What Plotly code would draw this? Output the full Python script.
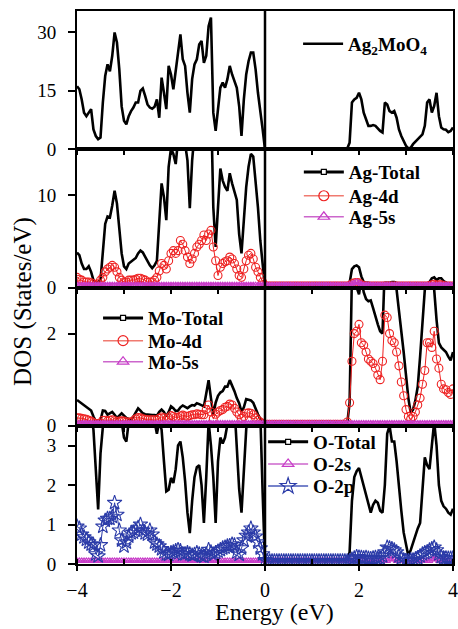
import plotly.graph_objects as go
from plotly.subplots import make_subplots

# energy grid (eV), 0.05 eV steps from -4 to 4
energy = [round(-4 + 0.05 * i, 2) for i in range(161)]

# ---- Panel 1: Ag2MoO4 total ----
ag2moo4_vb = [
    16.2, 15.4, 12.8, 9.4, 8.5, 9.4, 10.3, 5.1, 3.4, 2.6,
    3.0, 12.0, 18.8, 21.8, 20.0, 24.0, 30.0, 27.4, 20.5, 11.0,
    7.3, 6.4, 8.5, 9.8, 10.7, 12.0, 12.0, 15.0, 15.6, 13.7,
    11.5, 10.7, 10.4, 10.9, 12.8, 8.1, 18.4, 14.5, 10.3, 21.4,
    19.2, 15.4, 19.7, 24.0, 29.5, 23.1, 21.4, 14.5, 9.4, 18.0,
    21.8, 23.1, 26.9, 27.8, 22.2, 24.0, 31.6, 33.8, 9.4, 4.7,
    11.1, 15.8, 17.1, 15.8, 18.0, 21.4, 19.2, 17.5, 15.8, 11.1,
    3.4, 12.8, 19.2, 22.6, 24.8, 24.8, 20.5, 14.5, 10.3, 5.1,
    0.0]
ag2moo4_cb = [
    0.0, 0.0, 0.0, 0.0, 0.0, 0.0, 0.0, 0.0, 0.0, 0.0,
    0.0, 0.0, 0.0, 0.0, 0.0, 0.0, 0.0, 0.0, 0.0, 0.0,
    0.0, 0.0, 0.0, 0.0, 0.0, 0.0, 0.0, 0.0, 0.0, 0.0,
    0.0, 0.0, 0.0, 0.0,
    0.2, 1.7, 12.0, 12.8, 13.2, 14.5, 12.8, 9.4, 7.7, 6.0,
    6.0, 6.2, 6.0, 5.3, 4.7, 4.3, 12.0, 11.5, 9.8, 9.4,
    9.8, 8.1, 5.1, 3.4, 2.1, 0.9, 0.2, 0.4, 1.3, 1.9,
    2.6, 3.0, 3.8, 6.0, 12.0, 12.8, 9.4, 11.1, 14.5, 8.5,
    5.6, 5.1, 5.0, 4.4, 4.7, 5.6]

# ---- Panel 2: Ag ----
ag_total_vb = [
    3.8, 3.5, 2.6, 2.0, 2.0, 2.3, 1.7, 0.8, 0.5, 0.6,
    0.8, 4.0, 6.9, 7.7, 7.6, 8.9, 10.5, 9.1, 6.2, 3.7,
    2.3, 2.0, 2.6, 2.8, 2.9, 3.2, 3.7, 4.0, 3.8, 3.3,
    2.8, 2.4, 2.1, 2.4, 2.9, 6.9, 11.3, 9.8, 7.3, 13.1,
    15.1, 14.5, 13.4, 16.0, 19.6, 16.7, 15.6, 13.8, 8.6, 13.8,
    16.7, 16.3, 17.4, 18.2, 16.3, 17.4, 20.0, 20.7, 8.7, 4.4,
    8.7, 12.9, 11.6, 10.9, 10.5, 12.4, 11.3, 10.4, 9.5, 5.8,
    3.7, 7.3, 10.9, 13.1, 14.5, 14.2, 11.6, 8.7, 5.1, 2.2,
    0.0]
ag_total_cb = [
    0.3, 0.3, 0.3, 0.3, 0.3, 0.3, 0.3, 0.3, 0.3, 0.3,
    0.3, 0.3, 0.3, 0.3, 0.3, 0.3, 0.3, 0.3, 0.3, 0.3,
    0.3, 0.3, 0.3, 0.3, 0.3, 0.3, 0.3, 0.3, 0.3, 0.3,
    0.3, 0.3, 0.3, 0.3, 0.3,
    0.5, 2.0, 2.3, 2.4, 2.2, 1.2, 0.6, 0.5, 0.5, 0.4,
    0.4, 0.4, 0.4, 0.4, 0.4, 0.5, 0.5, 0.5, 0.6, 0.6,
    0.5, 0.4, 0.4, 0.4, 0.3, 0.3, 0.3, 0.3, 0.3, 0.3,
    0.4, 0.4, 0.4, 0.4, 0.6, 1.0, 1.1, 0.8, 1.0, 1.0,
    0.7, 0.5, 0.4, 0.4, 0.4]
ag_4d_vb = [
    1.1, 0.9, 0.8, 0.6, 0.6, 0.6, 0.5, 0.4, 0.3, 0.4,
    0.8, 1.1, 1.7, 2.0, 2.2, 2.4, 2.2, 1.7, 1.1, 0.8,
    0.6, 0.6, 0.8, 0.8, 0.8, 0.9, 1.0, 1.0, 0.9, 0.8,
    0.6, 0.6, 0.6, 0.8, 1.1, 1.8, 2.6, 2.4, 2.0, 2.9,
    3.7, 4.0, 3.7, 4.0, 5.1, 4.7, 4.0, 3.3, 2.6, 3.1,
    3.7, 4.4, 4.7, 5.1, 5.7, 5.1, 5.8, 6.2, 4.4, 2.9,
    1.3, 2.2, 2.6, 2.8, 2.9, 3.3, 3.1, 2.6, 2.0, 1.3,
    1.1, 2.0, 2.9, 3.5, 3.7, 3.1, 2.2, 1.7, 1.1, 0.6,
    0.2]
ag_4d_cb = [
    0.15, 0.15, 0.15, 0.15, 0.15, 0.15, 0.15, 0.15, 0.15, 0.15,
    0.15, 0.15, 0.15, 0.15, 0.15, 0.15, 0.15, 0.15, 0.15, 0.15,
    0.15, 0.15, 0.15, 0.15, 0.15, 0.15, 0.15, 0.15, 0.15, 0.15,
    0.15, 0.15, 0.15, 0.15, 0.15,
    0.2, 0.4, 0.5, 0.55, 0.5, 0.3, 0.2,
    0.15, 0.15, 0.15, 0.15, 0.15, 0.15, 0.15, 0.15, 0.15, 0.15,
    0.15, 0.15, 0.15, 0.15, 0.15, 0.15, 0.15, 0.15, 0.15, 0.15,
    0.15, 0.15, 0.15, 0.15, 0.15, 0.15, 0.15,
    0.2, 0.3, 0.35, 0.25, 0.3, 0.3, 0.2,
    0.15, 0.15, 0.15, 0.15]
ag_5s_vb = [
    0.25, 0.25, 0.25, 0.25, 0.25, 0.25, 0.25, 0.25, 0.25, 0.25,
    0.25, 0.25, 0.25, 0.25, 0.25, 0.25, 0.25, 0.25, 0.25, 0.25,
    0.25, 0.25, 0.25, 0.25, 0.25, 0.25, 0.25, 0.25, 0.25, 0.25,
    0.25, 0.25, 0.25, 0.25, 0.25, 0.25, 0.25, 0.25, 0.25, 0.25,
    0.25, 0.25, 0.25, 0.25, 0.25, 0.25, 0.25, 0.25, 0.25, 0.25,
    0.25, 0.25, 0.25, 0.25, 0.25, 0.25, 0.25, 0.25, 0.25, 0.25,
    0.25, 0.25, 0.25, 0.25, 0.25, 0.25, 0.25, 0.25, 0.25, 0.25,
    0.25, 0.25, 0.25, 0.25, 0.25, 0.25, 0.25, 0.25, 0.25, 0.25,
    0.25]
ag_5s_cb = [
    0.25, 0.25, 0.25, 0.25, 0.25, 0.25, 0.25, 0.25, 0.25, 0.25,
    0.25, 0.25, 0.25, 0.25, 0.25, 0.25, 0.25, 0.25, 0.25, 0.25,
    0.25, 0.25, 0.25, 0.25, 0.25, 0.25, 0.25, 0.25, 0.25, 0.25,
    0.25, 0.25, 0.25, 0.25, 0.25,
    0.3, 0.4, 0.5, 0.6, 0.5, 0.35,
    0.25, 0.25, 0.25, 0.25, 0.25, 0.25, 0.25, 0.25, 0.25, 0.25,
    0.25, 0.25, 0.25, 0.25, 0.25, 0.25, 0.25, 0.25, 0.25, 0.25,
    0.25, 0.25, 0.25, 0.25, 0.25, 0.25, 0.25, 0.25, 0.25, 0.25,
    0.25, 0.25, 0.25, 0.25, 0.25, 0.25, 0.25, 0.25, 0.25]

# ---- Panel 3: Mo ----
mo_total_vb = [
    0.56, 0.52, 0.47, 0.45, 0.40, 0.37, 0.33, 0.20, 0.10, 0.10,
    0.12, 0.33, 0.32, 0.24, 0.27, 0.30, 0.24, 0.17, 0.22, 0.27,
    0.22, 0.17, 0.15, 0.13, 0.20, 0.30, 0.38, 0.33, 0.27, 0.25,
    0.24, 0.24, 0.23, 0.23, 0.22, 0.30, 0.35, 0.30, 0.20, 0.30,
    0.42, 0.38, 0.32, 0.33, 0.40, 0.44, 0.40, 0.38, 0.42, 0.45,
    0.44, 0.49, 0.47, 0.45, 0.42, 0.70, 0.99, 0.60, 0.24, 0.50,
    0.65, 0.72, 0.75, 0.85, 0.85, 0.99, 0.88, 0.75, 0.60, 0.49,
    0.30, 0.40, 0.58, 0.56, 0.55, 0.50, 0.35, 0.25, 0.15, 0.08,
    0.02]
mo_total_cb = [
    0.05, 0.05, 0.05, 0.05, 0.05, 0.05, 0.05, 0.05, 0.05, 0.05,
    0.05, 0.05, 0.05, 0.05, 0.05, 0.05, 0.05, 0.05, 0.05, 0.05,
    0.05, 0.05, 0.05, 0.05, 0.05, 0.05, 0.05, 0.05, 0.05, 0.05,
    0.05, 0.05, 0.05, 0.05, 0.05,
    0.5, 3.3, 3.4, 3.0, 2.85, 3.2, 2.9, 2.75, 2.7, 2.72,
    2.55, 2.35, 2.2, 2.05, 2.0, 3.5, 3.6, 3.6, 3.4, 3.2,
    2.95, 2.5, 2.1, 1.6, 1.1, 0.6, 0.28, 0.35, 0.55, 0.85,
    1.5, 2.3, 2.95, 3.3, 3.4, 3.1, 2.95, 2.3, 1.8, 1.7,
    1.65, 1.6, 1.5, 1.42, 1.6]
mo_4d_vb = [
    0.17, 0.17, 0.16, 0.15, 0.14, 0.12, 0.10, 0.07, 0.05, 0.05,
    0.06, 0.12, 0.12, 0.10, 0.12, 0.13, 0.11, 0.09, 0.10, 0.11,
    0.10, 0.08, 0.08, 0.08, 0.11, 0.15, 0.18, 0.17, 0.15, 0.14,
    0.13, 0.13, 0.13, 0.13, 0.12, 0.16, 0.19, 0.17, 0.13, 0.17,
    0.22, 0.20, 0.18, 0.18, 0.21, 0.23, 0.21, 0.20, 0.22, 0.24,
    0.24, 0.26, 0.25, 0.24, 0.24, 0.35, 0.45, 0.30, 0.15, 0.25,
    0.30, 0.33, 0.35, 0.40, 0.42, 0.47, 0.45, 0.38, 0.30, 0.24,
    0.16, 0.20, 0.27, 0.28, 0.27, 0.24, 0.17, 0.12, 0.08, 0.05,
    0.03]
mo_4d_cb = [
    0.03, 0.03, 0.03, 0.03, 0.03, 0.03, 0.03, 0.03, 0.03, 0.03,
    0.03, 0.03, 0.03, 0.03, 0.03, 0.03, 0.03, 0.03, 0.03, 0.03,
    0.03, 0.03, 0.03, 0.03, 0.03, 0.03, 0.03, 0.03, 0.03, 0.03,
    0.03, 0.03, 0.03, 0.03,
    0.08, 0.5, 1.4, 2.0, 2.05, 2.2, 1.8, 1.75, 1.6, 1.45,
    1.4, 1.35, 1.25, 1.1, 1.0, 1.4, 2.4, 2.35, 2.0, 1.85,
    1.8, 1.6, 1.3, 0.95, 0.65, 0.35, 0.2, 0.15, 0.2, 0.3,
    0.45, 0.6, 0.9, 1.2, 1.8, 1.8, 1.7, 2.05, 1.45, 1.25,
    0.9, 0.8, 0.78, 0.72, 0.68, 0.8]
mo_5s_vb = [
    0.05, 0.05, 0.05, 0.05, 0.05, 0.05, 0.05, 0.05, 0.05, 0.05,
    0.05, 0.05, 0.05, 0.05, 0.05, 0.05, 0.05, 0.05, 0.05, 0.05,
    0.05, 0.05, 0.05, 0.05, 0.05, 0.05, 0.05, 0.05, 0.05, 0.05,
    0.05, 0.05, 0.05, 0.05, 0.05, 0.05, 0.05, 0.05, 0.05, 0.05,
    0.05, 0.05, 0.05, 0.05, 0.05, 0.05, 0.05, 0.05, 0.05, 0.05,
    0.05, 0.05, 0.05, 0.05, 0.05, 0.05, 0.05, 0.05, 0.05, 0.05,
    0.05, 0.05, 0.05, 0.05, 0.05, 0.05, 0.05, 0.05, 0.05, 0.05,
    0.05, 0.05, 0.05, 0.05, 0.05, 0.05, 0.05, 0.05, 0.05, 0.05,
    0.05]
mo_5s_cb = [
    0.05, 0.05, 0.05, 0.05, 0.05, 0.05, 0.05, 0.05, 0.05, 0.05,
    0.05, 0.05, 0.05, 0.05, 0.05, 0.05, 0.05, 0.05, 0.05, 0.05,
    0.05, 0.05, 0.05, 0.05, 0.05, 0.05, 0.05, 0.05, 0.05, 0.05,
    0.05, 0.05, 0.05, 0.05, 0.05, 0.05, 0.05, 0.05, 0.05, 0.05,
    0.05, 0.05, 0.05, 0.05, 0.05, 0.05, 0.05, 0.05, 0.05, 0.05,
    0.05, 0.05, 0.05, 0.05, 0.05, 0.05, 0.05, 0.05, 0.05, 0.05,
    0.05, 0.05, 0.05, 0.05, 0.05, 0.05, 0.05, 0.05, 0.05, 0.05,
    0.05, 0.05, 0.05, 0.05, 0.05, 0.05, 0.05, 0.05, 0.05, 0.05]

# ---- Panel 4: O ----
o_total_vb = [
    4.0, 4.2, 4.5, 4.5, 4.3, 4.0, 3.8, 3.4, 2.3, 1.38,
    2.8, 3.8, 4.5, 4.8, 5.0, 5.0, 4.5, 4.0, 3.8, 3.6,
    3.2, 3.1, 3.6, 4.0, 4.3, 4.5, 4.8, 5.0, 4.8, 4.6,
    4.4, 4.2, 4.0, 3.6, 3.3, 3.6, 3.4, 2.6, 1.84, 1.88,
    2.18, 2.05, 2.4, 3.0, 3.1, 2.7, 2.1, 1.3, 0.78, 1.6,
    2.2, 2.45, 2.5, 2.0, 1.04, 2.2, 3.6, 3.0, 2.2, 1.04,
    2.6, 3.2, 3.05, 3.2, 3.6, 4.0, 4.2, 4.0, 3.0, 1.9,
    1.3, 2.5, 3.4, 4.0, 4.5, 4.5, 4.2, 4.0, 3.8, 1.8,
    0.0]
o_total_cb = [
    0.07, 0.07, 0.07, 0.07, 0.07, 0.07, 0.07, 0.07, 0.07, 0.07,
    0.07, 0.07, 0.07, 0.07, 0.07, 0.07, 0.07, 0.07, 0.07, 0.07,
    0.07, 0.07, 0.07, 0.07, 0.07, 0.07, 0.07, 0.07, 0.07, 0.07,
    0.07, 0.07, 0.07, 0.07, 0.07,
    0.3, 1.6, 2.2, 2.35, 2.43, 2.2, 1.95, 1.75, 1.5, 1.3,
    1.5, 1.6, 1.55, 1.35, 1.3, 2.0, 3.3, 3.5, 3.1, 3.1,
    2.6, 1.9, 1.35, 0.8, 0.45, 0.2, 0.35, 0.55, 0.75, 0.9,
    1.04, 1.9, 2.7, 2.5, 2.4, 3.0, 3.6, 3.0, 2.0, 1.6,
    1.46, 1.4, 1.3, 1.25, 1.4]
o_2s_vb = [
    0.08, 0.08, 0.08, 0.08, 0.08, 0.08, 0.08, 0.08, 0.08, 0.08,
    0.08, 0.08, 0.08, 0.08, 0.08, 0.08, 0.08, 0.08, 0.08, 0.08,
    0.08, 0.08, 0.08, 0.08, 0.08, 0.08, 0.08, 0.08, 0.08, 0.08,
    0.08, 0.08, 0.08, 0.08, 0.08, 0.08, 0.08, 0.08, 0.08, 0.08,
    0.08, 0.08, 0.08, 0.08, 0.08, 0.08, 0.08, 0.08, 0.08, 0.08,
    0.08, 0.08, 0.08, 0.08, 0.08, 0.08, 0.08, 0.08, 0.08, 0.08,
    0.08, 0.08, 0.08, 0.08, 0.08, 0.08, 0.08, 0.08, 0.08, 0.08,
    0.08, 0.08, 0.08, 0.08, 0.08, 0.08, 0.08, 0.08, 0.08, 0.08,
    0.08]
o_2s_cb = [
    0.08, 0.08, 0.08, 0.08, 0.08, 0.08, 0.08, 0.08, 0.08, 0.08,
    0.08, 0.08, 0.08, 0.08, 0.08, 0.08, 0.08, 0.08, 0.08, 0.08,
    0.08, 0.08, 0.08, 0.08, 0.08, 0.08, 0.08, 0.08, 0.08, 0.08,
    0.08, 0.08, 0.08, 0.08, 0.08, 0.08, 0.08, 0.08, 0.08, 0.08,
    0.08, 0.08, 0.08, 0.08, 0.08, 0.08, 0.08, 0.08, 0.08, 0.08,
    0.08, 0.08,
    0.12, 0.12, 0.12,
    0.08, 0.08, 0.08, 0.08, 0.08, 0.08, 0.08, 0.08, 0.08, 0.08,
    0.08, 0.08, 0.08, 0.08, 0.08,
    0.12, 0.12, 0.12,
    0.08, 0.08, 0.08, 0.08, 0.08, 0.08, 0.08]
o_2p_vb = [
    0.95, 0.9, 0.75, 0.68, 0.62, 0.55, 0.5, 0.48, 0.25, 0.2,
    0.48, 0.95, 1.1, 1.15, 1.15, 1.2, 1.55, 1.25, 0.85, 0.6,
    0.45, 0.55, 0.7, 0.78, 0.8, 0.85, 0.92, 1.0, 0.85, 0.78,
    0.75, 0.85, 0.75, 0.55, 0.5, 0.45, 0.38, 0.3, 0.25, 0.24,
    0.28, 0.3, 0.33, 0.36, 0.33, 0.25, 0.25, 0.28, 0.25, 0.22,
    0.24, 0.28, 0.25, 0.2, 0.19, 0.25, 0.36, 0.3, 0.24, 0.28,
    0.32, 0.36, 0.4, 0.42, 0.45, 0.46, 0.5, 0.48, 0.3, 0.24,
    0.4, 0.6, 0.72, 0.8, 0.9, 0.8, 0.7, 0.55, 0.4, 0.25,
    0.1]
o_2p_cb = [
    0.07, 0.07, 0.07, 0.07, 0.07, 0.07, 0.07, 0.07, 0.07, 0.07,
    0.07, 0.07, 0.07, 0.07, 0.07, 0.07, 0.07, 0.07, 0.07, 0.07,
    0.07, 0.07, 0.07, 0.07, 0.07, 0.07, 0.07, 0.07, 0.07, 0.07,
    0.07, 0.07, 0.07, 0.07, 0.07,
    0.08, 0.12, 0.15, 0.18, 0.17, 0.16, 0.15, 0.16, 0.14, 0.13,
    0.15, 0.16, 0.14, 0.15, 0.2, 0.3, 0.42, 0.4, 0.38, 0.35,
    0.3, 0.2, 0.15, 0.1, 0.08, 0.08, 0.1, 0.1, 0.12, 0.15,
    0.2, 0.25, 0.28, 0.3, 0.35, 0.38, 0.42, 0.35, 0.25, 0.18,
    0.15, 0.15, 0.14, 0.14, 0.15]

ytick_vals = [[0, 15, 30], [0, 10], [0, 2], [0, 1, 2, 3]]
y_ranges = [[0, 35.5], [0, 15], [0, 3], [0, 3.5]]

RED = "#ee2222"
RED_LIGHT = "#f07a70"
MAG = "#c83cc8"
MAG_LIGHT = "#cc66cc"
BLUE = "#2b3ba8"
BLUE_LIGHT = "#4a5ab8"
SERIF = "Liberation Serif, Times New Roman, serif"

fig = make_subplots(rows=4, cols=1, shared_xaxes=True, vertical_spacing=0)


def data_line(y, row, color="black", width=2.6):
    fig.add_trace(go.Scatter(x=energy, y=y, mode="lines", showlegend=False,
                             line=dict(color=color, width=width)), row=row, col=1)


def data_markers(y, row, color, symbol, size):
    fig.add_trace(go.Scatter(x=energy, y=y, mode="lines+markers", showlegend=False,
                             line=dict(color=color, width=1.0),
                             marker=dict(symbol=symbol, size=size, color=color,
                                         line=dict(width=1.1, color=color))),
                  row=row, col=1)


def legend_entry(name, leg, row, line_color, line_width, symbol=None, mcolor=None,
                 msize=10, mfill=None):
    if symbol is None:
        fig.add_trace(go.Scatter(x=[None], y=[None], mode="lines", name=name,
                                 line=dict(color=line_color, width=line_width),
                                 legend=leg), row=row, col=1)
    else:
        marker = dict(symbol=symbol, size=msize, color=mfill if mfill else mcolor,
                      line=dict(width=1.2, color=mcolor))
        fig.add_trace(go.Scatter(x=[None], y=[None], mode="lines+markers", name=name,
                                 line=dict(color=line_color, width=line_width),
                                 marker=marker, legend=leg), row=row, col=1)


# Panel 1
data_line(ag2moo4_vb + ag2moo4_cb, 1)
legend_entry("<b>Ag<sub>2</sub>MoO<sub>4</sub></b>", "legend", 1, "black", 2.6)

# Panel 2
data_line(ag_total_vb + ag_total_cb, 2)
data_markers(ag_4d_vb + ag_4d_cb, 2, RED, "circle-open", 8)
data_markers(ag_5s_vb + ag_5s_cb, 2, MAG, "triangle-up-open", 6)
legend_entry("<b>Ag-Total</b>", "legend2", 2, "black", 3, "square", "black", 5, "white")
legend_entry("<b>Ag-4d</b>", "legend3", 2, RED_LIGHT, 1.5, "circle-open", RED, 10)
legend_entry("<b>Ag-5s</b>", "legend4", 2, MAG_LIGHT, 1.5, "triangle-up-open", MAG, 10)

# Panel 3
data_line(mo_total_vb + mo_total_cb, 3)
data_markers(mo_4d_vb + mo_4d_cb, 3, RED, "circle-open", 8)
data_markers(mo_5s_vb + mo_5s_cb, 3, MAG, "triangle-up-open", 6)
legend_entry("<b>Mo-Total</b>", "legend5", 3, "black", 3, "square", "black", 5, "white")
legend_entry("<b>Mo-4d</b>", "legend6", 3, RED_LIGHT, 1.5, "circle-open", RED, 10)
legend_entry("<b>Mo-5s</b>", "legend7", 3, MAG_LIGHT, 1.5, "triangle-up-open", MAG, 10)

# Panel 4
data_line(o_total_vb + o_total_cb, 4)
data_markers(o_2s_vb + o_2s_cb, 4, MAG, "triangle-up-open", 6)
data_markers(o_2p_vb + o_2p_cb, 4, BLUE, "star-open", 11)
legend_entry("<b>O-Total</b>", "legend8", 4, "black", 3, "square", "black", 5, "white")
legend_entry("<b>O-2s</b>", "legend9", 4, MAG_LIGHT, 1.5, "triangle-up-open", MAG, 10)
legend_entry("<b>O-2p</b>", "legend10", 4, BLUE_LIGHT, 1.5, "star-open", BLUE, 12)

# Fermi level divider
for r in range(1, 5):
    fig.add_vline(x=0, line=dict(color="black", width=2.5), row=r, col=1)

for r in range(1, 5):
    fig.update_yaxes(range=y_ranges[r - 1], tickvals=ytick_vals[r - 1],
                     showline=True, linewidth=2, linecolor="black", mirror=True,
                     ticks="outside", ticklen=7, tickwidth=2, tickcolor="black",
                     showgrid=False, zeroline=False, ticklabelstandoff=8,
                     automargin=False,
                     tickfont=dict(family=SERIF, size=19, color="black"),
                     row=r, col=1)
    if r < 4:
        fig.update_xaxes(range=[-4, 4], dtick=1, tick0=0, automargin=False,
                         showline=True, linewidth=2, linecolor="black", mirror=True,
                         ticks="outside", ticklen=4, tickwidth=2, tickcolor="black",
                         showgrid=False, zeroline=False, row=r, col=1)
    else:
        fig.update_xaxes(range=[-4, 4], dtick=2, tick0=0, automargin=False,
                         showline=True, linewidth=2, linecolor="black", mirror=True,
                         ticks="outside", ticklen=5, tickwidth=2, tickcolor="black",
                         minor=dict(ticks="inside", dtick=1, tick0=0, ticklen=5,
                                    tickwidth=2, tickcolor="black", showgrid=False),
                         showgrid=False, zeroline=False, showticklabels=True,
                         ticklabelstandoff=2,
                         tickfont=dict(family=SERIF, size=20, color="black"),
                         row=r, col=1)

leg_common = dict(xanchor="left", yanchor="top", bgcolor="rgba(0,0,0,0)",
                  font=dict(family=SERIF, size=19, color="black"),
                  itemwidth=40, tracegroupgap=0, borderwidth=0)

# legend positions (paper coords): one entry per legend box
leg_pos = {
    "legend": (0.588, 0.975),
    "legend2": (0.590, 0.743),
    "legend3": (0.590, 0.700),
    "legend4": (0.590, 0.662),
    "legend5": (0.056, 0.479),
    "legend6": (0.056, 0.438),
    "legend7": (0.056, 0.400),
    "legend8": (0.495, 0.255),
    "legend9": (0.495, 0.215),
    "legend10": (0.495, 0.175),
}
legend_layout = {k: dict(x=v[0], y=v[1], **leg_common) for k, v in leg_pos.items()}

fig.update_layout(
    width=458, height=629,
    margin=dict(l=77, r=5, t=11, b=65),
    paper_bgcolor="white", plot_bgcolor="white",
    font=dict(family=SERIF, color="black"),
    annotations=[
        dict(text="DOS (States/eV)", xref="paper", yref="paper", x=-0.1436, y=0.474,
             xanchor="center", yanchor="middle", textangle=-90, showarrow=False,
             font=dict(family=SERIF, size=25, color="black")),
        dict(text="Energy (eV)", xref="paper", yref="paper", x=0.524, y=-0.086,
             xanchor="center", yanchor="middle", showarrow=False,
             font=dict(family=SERIF, size=24, color="black")),
    ],
    **legend_layout,
)

fig.write_html("out.html")
